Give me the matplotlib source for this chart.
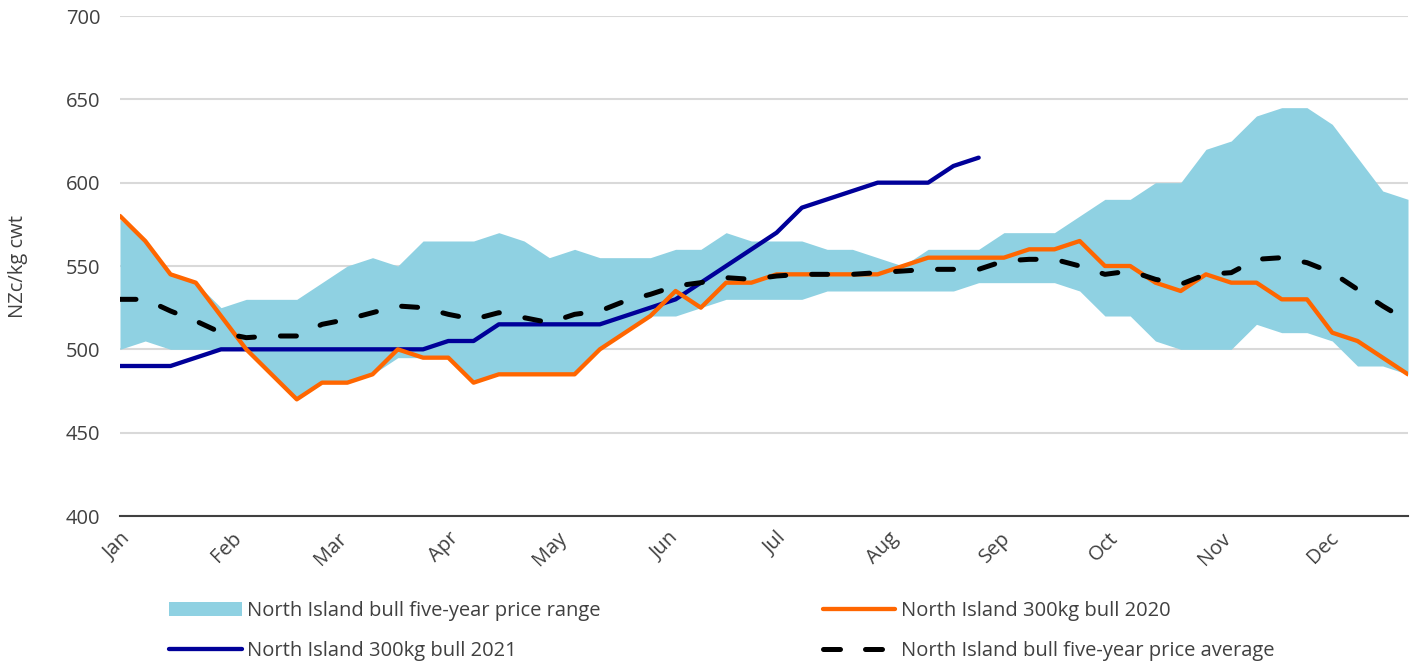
import matplotlib
matplotlib.use("Agg")
import matplotlib.pyplot as plt
from matplotlib.patches import Patch
from matplotlib.lines import Line2D
import numpy as np

plt.rcParams['font.family'] = ['Open Sans', 'DejaVu Sans']

# ---- data (weekly, 52 weeks) ----
month_labels = ["Jan", "Feb", "Mar", "Apr", "May", "Jun",
                "Jul", "Aug", "Sep", "Oct", "Nov", "Dec"]
month_start_days = [0, 31, 60, 91, 121, 152, 182, 213, 244, 274, 305, 335]

range_upper = [578, 565, 545, 540, 525, 530, 530, 530, 540, 550, 555, 550,
               565, 565, 565, 570, 565, 555, 560, 555, 555, 555, 560, 560,
               570, 565, 565, 565, 560, 560, 555, 550, 560, 560, 560, 570,
               570, 570, 580, 590, 590, 600, 600, 620, 625, 640, 645, 645,
               635, 615, 595, 590]
range_lower = [500, 505, 500, 500, 500, 500, 485, 470, 480, 480, 485, 495,
               495, 495, 480, 485, 485, 485, 485, 500, 510, 520, 520, 525,
               530, 530, 530, 530, 535, 535, 535, 535, 535, 535, 540, 540,
               540, 540, 535, 520, 520, 505, 500, 500, 500, 515, 510, 510,
               505, 490, 490, 485]
bull_2020 = [580, 565, 545, 540, 520, 500, 485, 470, 480, 480, 485, 500,
             495, 495, 480, 485, 485, 485, 485, 500, 510, 520, 535, 525,
             540, 540, 545, 545, 545, 545, 545, 550, 555, 555, 555, 555,
             560, 560, 565, 550, 550, 540, 535, 545, 540, 540, 530, 530,
             510, 505, 495, 485]
bull_2021 = [490, 490, 490, 495, 500, 500, 500, 500, 500, 500, 500, 500,
             500, 505, 505, 515, 515, 515, 515, 515, 520, 525, 530, 540,
             550, 560, 570, 585, 590, 595, 600, 600, 600, 610, 615]
avg_5yr = [530, 530, 523, 517, 510, 507, 508, 508, 515, 518, 522, 526,
           525, 521, 518, 522, 519, 516, 521, 523, 529, 533, 538, 540,
           543, 542, 544, 545, 545, 545, 546, 547, 548, 548, 548, 553,
           554, 554, 550, 545, 547, 542, 539, 545, 546, 554, 555, 552,
           546, 536, 526, 517]

days = np.arange(len(range_upper)) * 7
days_2021 = days[:len(bull_2021)]

c_band = "#8fd1e2"
c_orange = "#ff6600"
c_blue = "#000099"
c_text = "#404040"
fs = 14.5

W, H = 1413, 664
fig = plt.figure(figsize=(W / 100, H / 100), dpi=100)
ax = fig.add_axes([120 / W, 148 / H, 1288 / W, 500 / H])

ax.fill_between(days, range_lower, range_upper, color=c_band, lw=0, zorder=1)
ax.plot(days_2021, bull_2021, color=c_blue, lw=3.1, solid_capstyle='round',
        solid_joinstyle='round', zorder=3)
ax.plot(days, bull_2020, color=c_orange, lw=3.1, solid_capstyle='round',
        solid_joinstyle='round', zorder=4)
ax.plot(days, avg_5yr, color='black', lw=3.6, dashes=(3.2, 5.2),
        dash_capstyle='round', zorder=5)

ax.set_xlim(0, days[-1])
ax.set_ylim(400, 700)
ax.set_yticks(np.arange(400, 701, 50))
ax.set_xticks(month_start_days)
ax.set_xticklabels(month_labels, rotation=45, ha='right',
                   rotation_mode='anchor')
ax.yaxis.grid(True, color='#d9d9d9', lw=1.5, zorder=0)
ax.set_axisbelow(True)
for s in ['left', 'right', 'top']:
    ax.spines[s].set_visible(False)
ax.spines['bottom'].set_color('#404040')
ax.spines['bottom'].set_linewidth(1.5)
ax.tick_params(axis='both', length=0, colors=c_text, labelsize=fs)
ax.tick_params(axis='y', pad=14)
ax.tick_params(axis='x', pad=9)

fig.text(18 / W, 1 - 266 / H, "NZc/kg cwt", rotation=90, ha='center',
         va='center', fontsize=fs, color=c_text)

h_range = Patch(facecolor=c_band, edgecolor='none')
h_2021 = Line2D([], [], color=c_blue, lw=3.1, solid_capstyle='round')
h_2020 = Line2D([], [], color=c_orange, lw=3.1, solid_capstyle='round')
h_avg = Line2D([], [], color='black', lw=3.6, dashes=(3.4, 5.0),
               dash_capstyle='round')

leg_kw = dict(frameon=False, fontsize=fs, handlelength=3.6,
              handletextpad=0.25, labelspacing=0.98, borderpad=0,
              borderaxespad=0, loc='center left', labelcolor=c_text)
fig.legend([h_range, h_2021],
           ["North Island bull five-year price range",
            "North Island 300kg bull 2021"],
           bbox_to_anchor=(169 / W, 1 - 631 / H), **leg_kw)
fig.legend([h_2020, h_avg],
           ["North Island 300kg bull 2020",
            "North Island bull five-year price average"],
           bbox_to_anchor=(823 / W, 1 - 631 / H), **leg_kw)

fig.savefig("out.png", dpi=100)
